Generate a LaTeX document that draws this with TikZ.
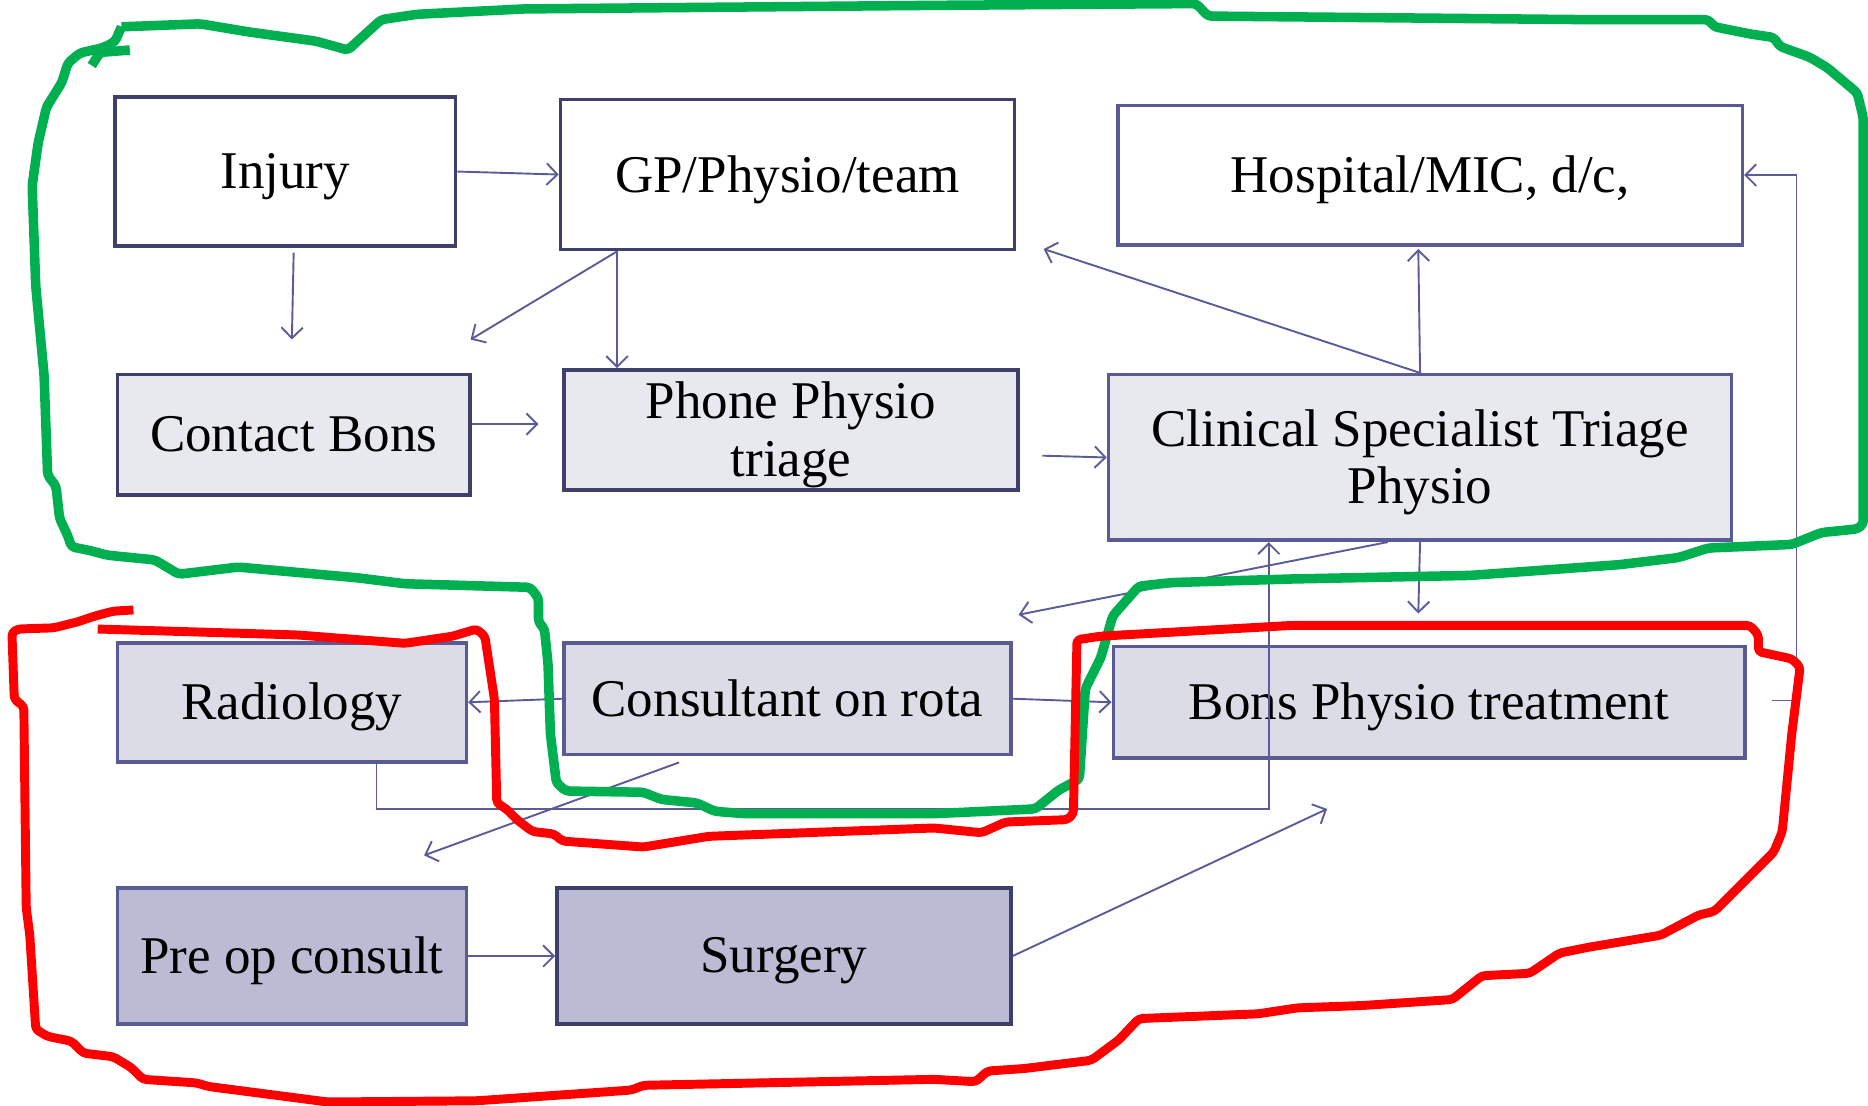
\documentclass[tikz,border=0pt]{standalone}
\usepackage{fontspec}
\setmainfont{Liberation Serif}
\usetikzlibrary{arrows.meta,calc}
\definecolor{bdark}{HTML}{3F3F6B}
\definecolor{bblue}{HTML}{5A5A94}
\definecolor{arrowc}{HTML}{5B5B99}
\definecolor{fillA}{HTML}{E8E9EF}
\definecolor{fillB}{HTML}{DCDCE7}
\definecolor{fillC}{HTML}{BBBCD3}
\definecolor{penG}{HTML}{00B050}
\definecolor{penR}{HTML}{FF0000}
\begin{document}
\begin{tikzpicture}[x=1pt,y=-1pt,
  box/.style={draw, line width=3pt, inner sep=0pt, anchor=north west, align=center,
    font=\fontsize{44.5}{48}\selectfont, text=black, text depth=1.5pt},
  conn/.style={draw=arrowc, line width=1.6pt,
    -{Straight Barb[length=9pt,width=18pt,line width=1.6pt]}},
  greenpen/.style={draw=penG, line width=8pt, line join=round, rounded corners=3pt},
  redpen/.style={draw=penR, line width=7.5pt, line join=round, rounded corners=3pt}]
\useasboundingbox (0,0) rectangle (1568,927.6);

% boxes
\node[box, draw=bdark, fill=white, minimum width=286pt, minimum height=125pt] (inj) at (95,80) {Injury};
\node[box, draw=bdark, fill=white, minimum width=381pt, minimum height=126pt] (gp) at (469,82) {GP/Physio/team};
\node[box, draw=bblue, fill=white, minimum width=524pt, minimum height=117pt] (hosp) at (937,87) {Hospital/MIC, d/c,};
\node[box, draw=bdark, fill=fillA, minimum width=296pt, minimum height=101pt] (cb) at (97,313) {Contact Bons};
\node[box, draw=bdark, fill=fillA, minimum width=381pt, minimum height=101pt] (phone) at (472,309) {Phone Physio\\triage};
\node[box, draw=bblue, fill=fillA, minimum width=523pt, minimum height=139pt] (clin) at (929,313) {Clinical Specialist Triage\\Physio};
\node[box, draw=bblue, fill=fillB, minimum width=293pt, minimum height=100pt] (rad) at (97,538) {Radiology};
\node[box, draw=bblue, fill=fillB, minimum width=375pt, minimum height=94pt] (cons) at (472,538) {Consultant on rota};
\node[box, draw=bblue, fill=fillB, minimum width=530pt, minimum height=94pt] (bons) at (933,541) {Bons Physio treatment};
\node[box, draw=bblue, fill=fillC, minimum width=293pt, minimum height=114pt] (preop) at (97,744) {Pre op consult};
\node[box, draw=bdark, fill=fillC, minimum width=381pt, minimum height=114pt] (surg) at (466,744) {Surgery};

% free ends
\coordinate (e2) at (245,285);
\coordinate (e3) at (395,285);
\coordinate (e5) at (452,356);
\coordinate (s6) at (875,382.5);
\coordinate (e7) at (876,209);
\coordinate (e8) at (1190.5,209);
\coordinate (s9) at (1487,588);
\coordinate (k9) at (1508,588);
\coordinate (e10) at (1190.5,515);
\coordinate (e11) at (855,516);
\coordinate (k14) at (1065,679);
\coordinate (s15) at (570,640);
\coordinate (e15) at (356,718);
\coordinate (e17) at (1114,679);

% connectors
\draw[conn] (inj.east) -- (gp.west);
\draw[conn] ($(inj.south)+(7,4)$) -- (e2);
\draw[conn] ($(gp.south west)+(49,0)$) -- (e3);
\draw[conn] ($(gp.south west)+(49,0)$) -- ($(phone.north west)+(46,0)$);
\draw[conn] ($(cb.north east)+(0,43)$) -- (e5);
\draw[conn] (s6) -- (clin.west);
\draw[conn] (clin.north) -- (e7);
\draw[conn] (clin.north) -- (e8);
\draw[conn] (s9) -- (k9) |- (hosp.east);
\draw[conn] (clin.south) -- (e10);
\draw[conn] ($(clin.south east)+(-290,0)$) -- (e11);
\draw[conn] (cons.west) -- (rad.east);
\draw[conn] (cons.east) -- (bons.west);
\draw[conn] ($(rad.south west)+(219,0)$) |- (k14) -- (k14 |- clin.south);
\draw[conn] (s15) -- (e15);
\draw[conn] (preop.east) -- (surg.west);
\draw[conn] (surg.east) -- (e17);

% green freehand loop
\draw[greenpen] (102,22.5) -- (96.5,35) -- (86.6,40) -- (67,44.5) -- (57,53) -- (52,69) -- (39,90)
 -- (32,120) -- (27,156) -- (30,240) -- (37,315) -- (40,399) -- (47,408) -- (50,435) -- (57,450)
 -- (60,459) -- (75,462) -- (90,466) -- (130,470) -- (150,482) -- (200,476) -- (300,485) -- (340,490)
 -- (445,493) -- (452,502) -- (452,522) -- (457,528) -- (460,557) -- (462,616) -- (467,657) -- (475,664)
 -- (540,665) -- (555,671) -- (585,674) -- (600,681) -- (625,683) -- (784,683) -- (869,679) -- (889,663)
 -- (906,654) -- (911,578) -- (924,552) -- (934,517) -- (956,492) -- (984,489) -- (1084,486) -- (1234,483)
 -- (1359,474) -- (1409,468) -- (1434,460) -- (1504,457) -- (1529,447) -- (1559,444) -- (1564,440)
 -- (1564,99) -- (1559,78) -- (1534,57) -- (1519,48) -- (1494,39) -- (1489,31.5) -- (1469,28.5)
 -- (1439,22.5) -- (1434,16.5) -- (1334,16.5) -- (1014,13.5) -- (1004,3) -- (784,4.5) -- (440,7.5)
 -- (350,12) -- (320,16.5) -- (292,42) -- (265,34.5) -- (210,27) -- (168,20) -- (102,22.5);
\draw[greenpen] (77,55) -- (84,44) -- (109,42);

% red freehand loop
\draw[redpen] (112,512) -- (95,513) -- (80,517) -- (65,522) -- (45,527) -- (15,528) -- (10,531)
 -- (12,587) -- (20,593) -- (22,762) -- (25,785) -- (30,864) -- (40,870) -- (60,874) -- (70,884)
 -- (95,887) -- (110,896) -- (120,906) -- (165,909) -- (175,912) -- (275,925) -- (400,924) -- (530,915)
 -- (540,911) -- (784,906) -- (819,908) -- (829,899) -- (859,897) -- (916,890) -- (939,873) -- (956,855)
 -- (1056,851) -- (1089,846) -- (1144,844) -- (1219,839) -- (1244,819) -- (1284,817) -- (1309,800)
 -- (1334,795) -- (1394,785) -- (1426,768) -- (1439,765) -- (1489,715) -- (1496,698) -- (1504,616)
 -- (1511,560) -- (1504,553) -- (1476,547) -- (1476,533) -- (1469,525) -- (1084,525) -- (924,534)
 -- (904,537) -- (901,683) -- (896,688) -- (844,690) -- (824,699) -- (784,695) -- (595,702) -- (540,711)
 -- (472,706) -- (465,700) -- (447,698) -- (435,689) -- (425,679) -- (417,674) -- (415,587) -- (407,534)
 -- (400,528) -- (380,534) -- (340,540) -- (250,533) -- (82,528);
\end{tikzpicture}
\end{document}
